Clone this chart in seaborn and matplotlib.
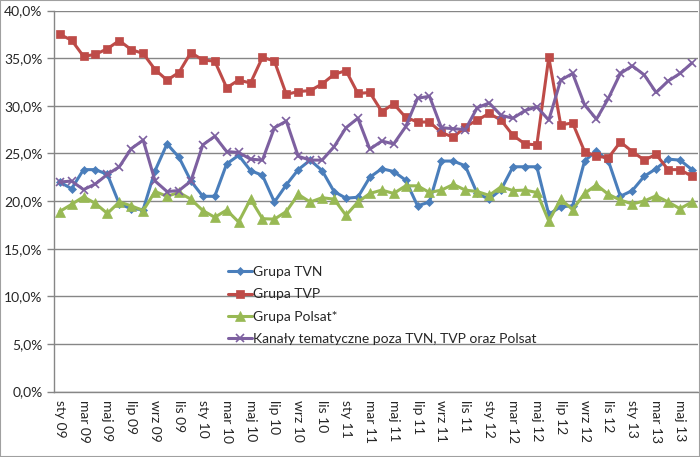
import numpy as np
import pandas as pd
import seaborn as sns
import matplotlib.pyplot as plt
from matplotlib.ticker import FuncFormatter, FixedLocator
from matplotlib.patches import Rectangle

# monthly share of audience, sty 09 .. cze 13
months_pl = ['sty', 'lut', 'mar', 'kwi', 'maj', 'cze', 'lip', 'sie', 'wrz', 'paź', 'lis', 'gru']
years = ['09', '10', '11', '12', '13']
categories = [f"{m} {y}" for y in years for m in months_pl][:54]

tvn = [22.0, 21.3, 23.3, 23.3, 22.8, 19.7, 19.2, 19.1, 23.2, 26.0, 24.6, 22.1,
       20.5, 20.5, 23.9, 24.8, 23.2, 22.7, 19.9, 21.7, 23.3, 24.3, 23.2, 21.0,
       20.3, 20.4, 22.5, 23.4, 23.1, 22.2, 19.5, 19.9, 24.2, 24.2, 23.7, 20.8,
       20.2, 21.2, 23.6, 23.6, 23.6, 18.6, 19.4, 19.5, 24.2, 25.3, 24.2, 20.5,
       21.1, 22.6, 23.4, 24.4, 24.3, 23.3]
tvp = [37.5, 36.9, 35.2, 35.4, 36.0, 36.85, 35.9, 35.5, 33.8, 32.7, 33.5, 35.6,
       34.8, 34.7, 31.9, 32.7, 32.4, 35.1, 34.7, 31.2, 31.5, 31.6, 32.3, 33.3,
       33.7, 31.3, 31.4, 29.4, 30.2, 28.8, 28.3, 28.3, 27.2, 26.7, 27.8, 28.5,
       29.2, 28.5, 26.9, 26.0, 25.9, 35.1, 28.0, 28.2, 25.2, 24.7, 24.55, 26.2,
       25.2, 24.3, 24.9, 23.3, 23.3, 22.6]
polsat = [18.9, 19.65, 20.45, 19.75, 18.7, 19.9, 19.5, 19.0, 21.0, 20.5, 20.9, 20.2,
          19.0, 18.3, 19.05, 17.8, 20.2, 18.15, 18.1, 18.9, 20.7, 19.9, 20.35, 20.2,
          18.5, 19.9, 20.8, 21.15, 20.8, 21.6, 21.6, 20.9, 21.15, 21.75, 21.15, 21.0,
          20.6, 21.5, 21.1, 21.15, 20.9, 17.9, 20.2, 19.1, 20.8, 21.7, 20.7, 20.1,
          19.7, 20.0, 20.55, 19.9, 19.2, 19.9]
tematyczne = [22.0, 22.1, 21.2, 21.8, 22.8, 23.6, 25.5, 26.4, 22.1, 21.0, 21.1, 22.1,
              25.9, 26.8, 25.2, 25.1, 24.4, 24.3, 27.7, 28.4, 24.7, 24.3, 24.3, 25.7,
              27.7, 28.7, 25.45, 26.3, 26.0, 27.8, 30.8, 31.0, 27.7, 27.6, 27.5, 29.8,
              30.3, 29.0, 28.7, 29.5, 29.9, 28.5, 32.7, 33.4, 30.1, 28.6, 30.8, 33.4,
              34.2, 33.25, 31.4, 32.6, 33.4, 34.5]

series = {
    'Grupa TVN': tvn,
    'Grupa TVP': tvp,
    'Grupa Polsat*': polsat,
    'Kanały tematyczne poza TVN, TVP oraz Polsat': tematyczne,
}
colors = ['#4A7EBB', '#BE4B48', '#98B954', '#7D60A0']
markers = ['D', 's', '^', 'x']
msizes = [4.5, 6, 6.5, 6]

sns.set_style('white')
plt.rcParams['font.family'] = ['Lato', 'DejaVu Sans']

fig = plt.figure(figsize=(7, 4.57), dpi=100)
ax = fig.add_axes([0.0767, 0.1433, 0.9203, 0.8335])

x = np.arange(len(categories))
for (name, vals), c, m, ms in zip(series.items(), colors, markers, msizes):
    sns.lineplot(x=x, y=np.array(vals) / 100, ax=ax, color=c, marker=m,
                 markersize=ms, linewidth=2.2, label=name,
                 markeredgecolor=c, markeredgewidth=1.2 if m == 'x' else 0.5)

ax.set_xlim(-0.5, len(categories) - 0.5)
ax.set_ylim(0, 0.40)
ax.yaxis.set_major_locator(FixedLocator(np.arange(0, 0.401, 0.05)))
ax.yaxis.set_major_formatter(FuncFormatter(lambda v, p: f"{v * 100:.1f}%".replace('.', ',')))
ax.grid(axis='y', color='#868686', linewidth=1)
ax.set_axisbelow(True)

ax.set_xticks(x[::2])
ax.set_xticklabels(categories[::2], rotation=270, fontsize=10)
ax.set_xticks(np.arange(-0.5, len(categories), 2), minor=True)
ax.tick_params(axis='x', which='major', length=0, pad=6)
ax.tick_params(axis='x', which='minor', length=5, color='#868686', width=1, direction='out')
ax.tick_params(axis='y', length=5, color='#868686', width=1, direction='out', labelsize=10, pad=3)
ax.tick_params(axis='y', which='major', left=True)

for s in ['top', 'right']:
    ax.spines[s].set_visible(False)
for s in ['left', 'bottom']:
    ax.spines[s].set_color('#868686')
    ax.spines[s].set_linewidth(1)

ax.set_xlabel('')
ax.set_ylabel('')

leg = ax.legend(loc='upper left', bbox_to_anchor=(228 / 700, 1 - 266 / 457),
                bbox_transform=fig.transFigure, frameon=False, fontsize=10,
                borderpad=0, borderaxespad=0, handlelength=1.7, handletextpad=0.1,
                labelspacing=0.75)

fig.patches.append(Rectangle((0, 0), 1, 1, transform=fig.transFigure, fill=False,
                             edgecolor='#A0A0A0', linewidth=1.5))

fig.savefig('out.png', dpi=100)
